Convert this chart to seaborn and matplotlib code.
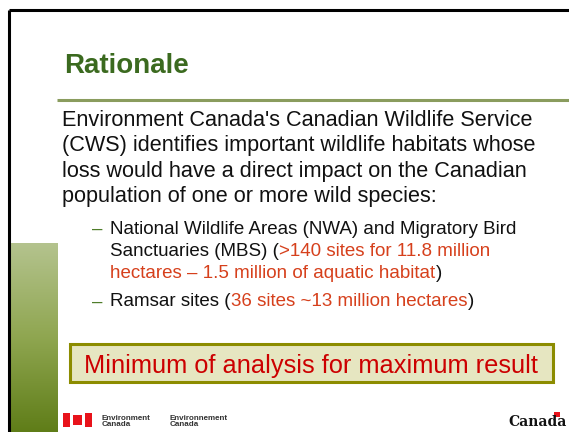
import numpy as np
import seaborn as sns
import matplotlib
matplotlib.use('Agg')
import matplotlib.pyplot as plt
from matplotlib.patches import Rectangle

# slide content
title = "Rationale"
body_lines = [
    "Environment Canada's Canadian Wildlife Service",
    "(CWS) identifies important wildlife habitats whose",
    "loss would have a direct impact on the Canadian",
    "population of one or more wild species:",
]
BLACK = '#111111'
RED = '#d6401c'
sub_lines = [
    [("National Wildlife Areas (NWA) and Migratory Bird", BLACK)],
    [("Sanctuaries (MBS) (", BLACK), (">140 sites for 11.8 million", RED)],
    [("hectares \u2013 1.5 million of aquatic habitat", RED), (")", BLACK)],
    [("Ramsar sites (", BLACK), ("36 sites ~13 million hectares", RED), (")", BLACK)],
]
sub_has_dash = [True, False, False, True]
box_text = "Minimum of analysis for maximum result"
dept_en = "Environment\nCanada"
dept_fr = "Environnement\nCanada"
wordmark = "Canada"

sns.set_style('white')
plt.rcParams['font.family'] = ['Liberation Sans', 'DejaVu Sans']

W, H = 569, 432
fig = plt.figure(figsize=(W / 100, H / 100), dpi=100)
ax = fig.add_axes([0, 0, 1, 1])
ax.set_xlim(0, W)
ax.set_ylim(H, 0)
ax.axis('off')

# frame lines
ax.plot([9.5, W], [9.5, 9.5], color='black', lw=2.2, solid_capstyle='butt')
ax.plot([9.5, 9.5], [9.5, H], color='black', lw=2.2, solid_capstyle='butt')

# green gradient bar on the left
grad = np.linspace(0, 1, 256).reshape(-1, 1)
cmap = matplotlib.colors.LinearSegmentedColormap.from_list('g', ['#b4c38e', '#8fa650', '#5f7d18'])
ax.imshow(grad, cmap=cmap, extent=[11.5, 58, H, 243], aspect='auto', zorder=1)

# title and rule
ax.text(64, 73, title, fontsize=20, fontweight='bold', color='#3b6a1f', va='baseline')
ax.plot([57, W], [100, 100], color='#8a9c5e', lw=2.2, solid_capstyle='butt')

# body text
for i, line in enumerate(body_lines):
    ax.text(62, 126 + i * 25.4, line, fontsize=15.6, color=BLACK, va='baseline')

# sub bullets with mixed colours
fig.canvas.draw()
renderer = fig.canvas.get_renderer()
sub_y = [234, 256.5, 278.5, 306.5]
for segs, y, dash in zip(sub_lines, sub_y, sub_has_dash):
    if dash:
        ax.text(92, y, "\u2013", fontsize=13.5, color='#4f7d2a', va='baseline')
    x = 110.5
    for s, c in segs:
        t = ax.text(x, y, s, fontsize=13.5, color=c, va='baseline')
        bb = t.get_window_extent(renderer)
        x += bb.width

# highlighted box
ax.add_patch(Rectangle((70, 344), 483, 38, facecolor='#e6e6c1', edgecolor='#8c8c00', lw=2.2, zorder=2))
ax.text(311.5, 373, box_text, fontsize=18.3, color='#cc0000', ha='center', va='baseline', zorder=3)

# footer: flag symbol
ax.add_patch(Rectangle((63, 413), 7, 14, facecolor='#e8131b', lw=0))
ax.add_patch(Rectangle((85, 413), 7, 14, facecolor='#e8131b', lw=0))
ax.add_patch(Rectangle((73, 415), 9, 10, facecolor='#e8131b', lw=0))
ax.text(102, 426.5, dept_en, fontsize=5.8, fontweight='bold', color='#333333', va='baseline', linespacing=1.0)
ax.text(170, 426.5, dept_fr, fontsize=5.8, fontweight='bold', color='#333333', va='baseline', linespacing=1.0)

# Canada wordmark
ax.text(508, 426, wordmark, fontsize=10, fontweight='bold', family='DejaVu Serif', color='#111111', va='baseline')
ax.add_patch(Rectangle((554, 412), 6, 5, facecolor='#e8131b', lw=0))

fig.savefig('out.png', dpi=100)
